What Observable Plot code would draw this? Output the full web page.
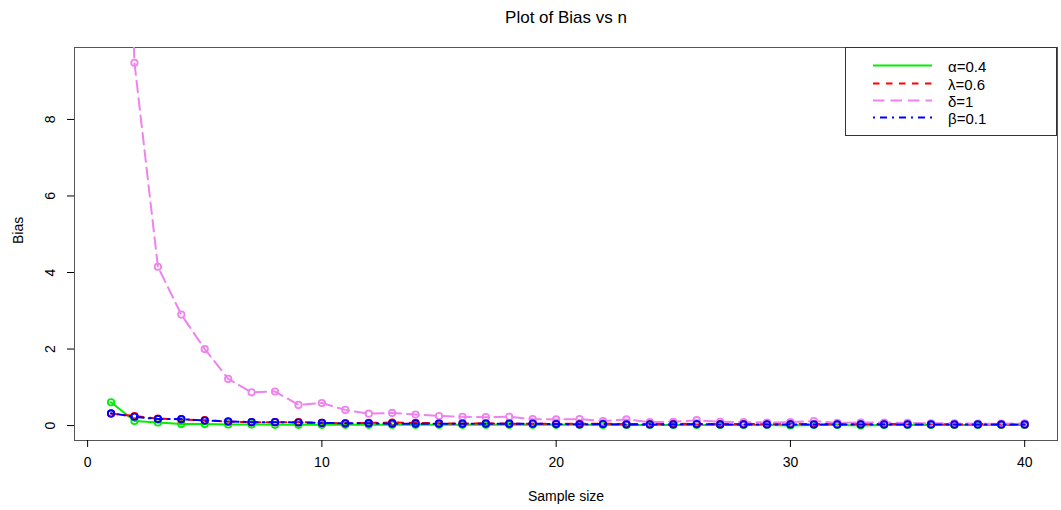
<!DOCTYPE html>
<html>
<head>
<meta charset="utf-8">
<script src="https://cdn.jsdelivr.net/npm/d3@7"></script>
<script src="https://cdn.jsdelivr.net/npm/@observablehq/plot@0.6"></script>
<style>
  html, body { margin: 0; padding: 0; background: #ffffff; }
  #chart { position: relative; width: 1061px; height: 510px; }
  svg { font-family: "Liberation Sans", Arial, Helvetica, sans-serif; }
</style>
</head>
<body>
<div id="chart"></div>
<script>
// Sample sizes and the bias of each parameter estimate
const sampleSize = [1, 2, 3, 4, 5, 6, 7, 8, 9, 10, 11, 12, 13, 14, 15, 16, 17, 18, 19, 20,
                    21, 22, 23, 24, 25, 26, 27, 28, 29, 30, 31, 32, 33, 34, 35, 36, 37, 38, 39, 40];

const biasAlpha = [0.61, 0.12, 0.08, 0.04, 0.04, 0.03, 0.03, 0.02, 0.02, 0.02,
                   0.02, 0.02, 0.02, 0.02, 0.02, 0.02, 0.02, 0.02, 0.02, 0.02,
                   0.02, 0.015, 0.015, 0.015, 0.015, 0.015, 0.015, 0.015, 0.015, 0.005,
                   0.015, 0.015, 0.0, 0.015, 0.015, 0.015, 0.015, 0.015, 0.015, 0.015];

const biasLambda = [0.31, 0.25, 0.18, 0.16, 0.14, 0.10, 0.09, 0.09, 0.09, 0.07,
                    0.06, 0.07, 0.08, 0.07, 0.06, 0.05, 0.06, 0.05, 0.05, 0.05,
                    0.05, 0.05, 0.04, 0.04, 0.05, 0.04, 0.04, 0.04, 0.04, 0.05,
                    0.04, 0.05, 0.04, 0.04, 0.04, 0.04, 0.03, 0.04, 0.03, 0.03];

const biasDelta = [25, 9.48, 4.15, 2.9, 2.0, 1.22, 0.87, 0.89, 0.54, 0.59,
                   0.41, 0.31, 0.33, 0.29, 0.25, 0.23, 0.22, 0.23, 0.17, 0.16,
                   0.17, 0.12, 0.16, 0.09, 0.10, 0.14, 0.10, 0.09, 0.08, 0.09,
                   0.12, 0.07, 0.08, 0.08, 0.07, 0.06, 0.06, 0.05, 0.05, 0.06];

const biasBeta = [0.32, 0.23, 0.17, 0.17, 0.13, 0.11, 0.09, 0.09, 0.08, 0.07,
                  0.06, 0.06, 0.05, 0.05, 0.05, 0.05, 0.05, 0.05, 0.05, 0.04,
                  0.03, 0.04, 0.03, 0.03, 0.03, 0.04, 0.03, 0.03, 0.03, 0.03,
                  0.03, 0.03, 0.03, 0.03, 0.03, 0.03, 0.03, 0.03, 0.03, 0.03];

const seriesLabels = ["α=0.4", "λ=0.6", "δ=1", "β=0.1"];
const xTicks = [0, 10, 20, 30, 40];
const yTicks = [0, 2, 4, 6, 8];

const series = [
  {label: seriesLabels[0], values: biasAlpha,  color: "#00ee00", dash: null},
  {label: seriesLabels[1], values: biasLambda, color: "#ff0000", dash: "6.5,6.5"},
  {label: seriesLabels[2], values: biasDelta,  color: "#ee82ee", dash: "11.5,6"},
  {label: seriesLabels[3], values: biasBeta,   color: "#0000ff", dash: "2,5,7,5"}
];

const rows = s => sampleSize.map((n, i) => ({n, bias: s.values[i]}));

const marks = [];
for (const s of series) {
  marks.push(Plot.line(rows(s), {
    x: "n", y: "bias", stroke: s.color, strokeWidth: 2,
    strokeDasharray: s.dash ?? undefined, clip: true
  }));
  marks.push(Plot.dot(rows(s), {
    x: "n", y: "bias", r: 3.2, stroke: s.color, strokeWidth: 1.8, fill: "none", clip: true
  }));
}

const chart = Plot.plot({
  width: 1061,
  height: 510,
  marginLeft: 74,
  marginRight: 4,
  marginTop: 47,
  marginBottom: 70,
  style: {background: "#ffffff", fontSize: "14px", color: "#000"},
  x: {domain: [-0.56, 41.4], label: null},
  y: {domain: [-0.39, 9.88], label: null},
  marks: [
    Plot.frame({stroke: "#555", strokeWidth: 1}),
    Plot.axisX({ticks: xTicks, tickSize: 7, tickPadding: 10, tickFormat: d => String(d), fontSize: 14, label: null}),
    Plot.axisY({ticks: yTicks, tickSize: 7, tickPadding: 13, tickRotate: -90, tickFormat: d => String(d), fontSize: 14, label: null}),
    ...marks,
    Plot.text(["Plot of Bias vs n"], {frameAnchor: "top", dy: -37, fontSize: 17, fill: "#000"}),
    Plot.text(["Sample size"], {frameAnchor: "bottom", dy: 60, fontSize: 14, fill: "#000"}),
    Plot.text(["Bias"], {frameAnchor: "left", dx: -56, rotate: -90, fontSize: 14, fill: "#000"})
  ]
});

document.getElementById("chart").appendChild(chart);

// Legend box in the upper right corner of the plotting region
const svg = d3.select(chart);
const lg = svg.append("g").attr("text-anchor", "start");
lg.append("rect")
  .attr("x", 845.5).attr("y", 47.5).attr("width", 211).attr("height", 88)
  .attr("fill", "#ffffff").attr("stroke", "#333").attr("stroke-width", 1);
const rowY = [65.5, 83.5, 100.5, 117.5];
series.forEach((s, i) => {
  lg.append("line")
    .attr("x1", 873).attr("x2", 932).attr("y1", rowY[i]).attr("y2", rowY[i])
    .attr("stroke", s.color).attr("stroke-width", 2)
    .attr("stroke-dasharray", s.dash);
  lg.append("text")
    .attr("x", 948).attr("y", rowY[i] + 1).attr("dy", "0.35em")
    .attr("text-anchor", "start")
    .attr("font-size", 15).attr("fill", "#000")
    .text(s.label);
});
</script>
</body>
</html>
